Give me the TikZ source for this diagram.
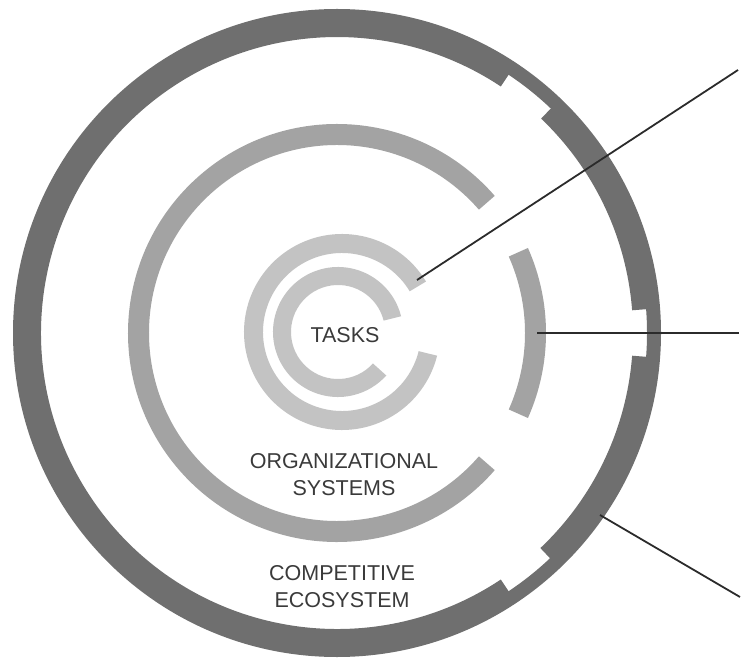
\documentclass[tikz,border=0pt]{standalone}
\usepackage{fontspec}
\setmainfont{Liberation Sans}
\definecolor{ringdark}{HTML}{6F6F6F}
\definecolor{ringmid}{HTML}{A3A3A3}
\definecolor{ringlight}{HTML}{C3C3C3}
\definecolor{linecol}{HTML}{2B2B2B}
\definecolor{textcol}{HTML}{3A3A3A}
\newcommand{\annsector}[5]{%
  \fill[#1] (#2:#5) arc[start angle=#2,end angle=#3,radius=#5]
    -- (#3:#4) arc[start angle=#3,end angle=#2,radius=#4] -- cycle;}
\tikzset{
  outerring/.style={fill=ringdark},
  midring/.style={fill=ringmid},
  taskring/.style={fill=ringlight},
  connector/.style={draw=linecol,line width=1.8pt},
  label/.style={text=textcol,font=\fontsize{21.5}{27}\selectfont,align=center,inner sep=0pt},
}
\begin{document}
\begin{tikzpicture}[x=1pt,y=1pt]
\useasboundingbox (0,0) rectangle (751,659);
% outer ring (competitive ecosystem)
\begin{scope}[shift={(337,326)}]
  \fill[outerring,even odd rule] (0,0) circle[radius=324pt] (0,0) circle[radius=310pt];
  \annsector{outerring}{4.4}{46.4}{296pt}{311pt}
  \annsector{outerring}{56.4}{303.6}{296pt}{311pt}
  \annsector{outerring}{313.4}{355.6}{296pt}{311pt}
\end{scope}
% middle ring (organizational systems)
\begin{scope}[shift={(337,326)}]
  \annsector{midring}{41}{319}{188pt}{209pt}
  \annsector{midring}{-24}{24}{188pt}{209pt}
\end{scope}
% task rings
\begin{scope}[shift={(342,327)}]
  \annsector{taskring}{31}{346}{79pt}{98pt}
\end{scope}
\begin{scope}[shift={(338,327)}]
  \annsector{taskring}{14}{318}{47pt}{65pt}
\end{scope}
% labels
\node[label] (tasks) at (345,324) {TASKS};
\node[label] (org) at (344,184) {ORGANIZATIONAL\\SYSTEMS};
\node[label] (comp) at (342,72) {COMPETITIVE\\ECOSYSTEM};
% connectors
\coordinate (a1) at (417,379);
\coordinate (b1) at (738,589);
\coordinate (a2) at (537,326);
\coordinate (b2) at (739,326);
\coordinate (a3) at (600,144);
\coordinate (b3) at (740,62);
\draw[connector] (a1) -- (b1);
\draw[connector] (a2) -- (b2);
\draw[connector] (a3) -- (b3);
\end{tikzpicture}
\end{document}
